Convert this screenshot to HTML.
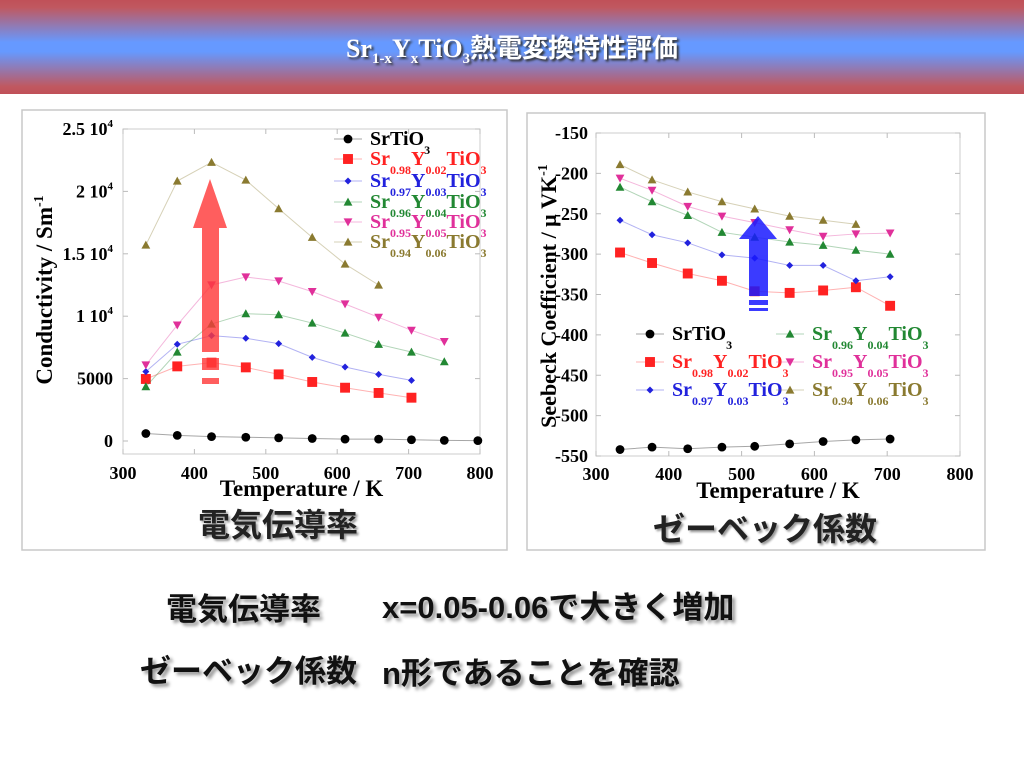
<!DOCTYPE html>
<html><head><meta charset="utf-8"><style>
html,body{margin:0;padding:0;width:1024px;height:768px;overflow:hidden;background:#fff}
#hdr{position:absolute;left:0;top:0;width:1024px;height:94px;background:linear-gradient(#c05058 0%,#c05860 8%,#6699ff 45%,#6699ff 55%,#c05860 92%,#c05058 100%)}
#ttl{position:absolute;left:0;top:28px;width:1024px;text-align:center;color:#fff;font:bold 26px "Liberation Serif","Noto Sans CJK JP",serif;text-shadow:2px 2px 2px #333}
#ttl sub{font-size:15px;vertical-align:-6px}
.bt{position:absolute;font:bold 31px "Liberation Sans","Noto Sans CJK JP",sans-serif;color:#111;text-shadow:3px 3px 3px #999;white-space:nowrap}
svg{position:absolute;left:0;top:0}
</style></head><body>
<div id="hdr"><div id="ttl">Sr<sub>1-x</sub>Y<sub>x</sub>TiO<sub>3</sub>熱電変換特性評価</div></div>
<svg id="chart" width="1024" height="768"></svg>
<div class="bt" style="left:166px;top:584px">電気伝導率</div>
<div class="bt" style="left:382px;top:582px">x=0.05-0.06で大きく増加</div>
<div class="bt" style="left:140px;top:646px">ゼーベック係数</div>
<div class="bt" style="left:382px;top:648px">n形であることを確認</div>
<script>
const seriesNames=[["Sr","","TiO","3"],["Sr","0.98","Y","0.02","TiO","3"],["Sr","0.97","Y","0.03","TiO","3"],["Sr","0.96","Y","0.04","TiO","3"],["Sr","0.95","Y","0.05","TiO","3"],["Sr","0.94","Y","0.06","TiO","3"]];
const colors=["#000","#f22","#22d","#228833","#e0309a","#8a7a30"];
const markers=["circle","square","diamond","tri","tridown","tri"];
const tempsL=[332,376,424,472,518,565,611,658,704,750,797];
const condBlack=[600,450,350,300,250,200,150,150,100,50,30];
const condRed=[4970,5980,6280,5900,5340,4730,4270,3850,3470];
const condBlue=[5560,7750,8440,8230,7800,6700,5930,5340,4860];
const condGreen=[4350,7130,9370,10200,10120,9450,8650,7750,7130,6360];
const condPink=[6090,9290,12500,13140,12820,11970,10980,9910,8870,7960];
const condOlive=[15700,20830,22330,20910,18620,16320,14180,12500];
const condTicks=["0","5000","1 10","1.5 10","2 10","2.5 10"];
const tempsR=[333,377,426,473,518,566,612,657,704];
const seebBlack=[-542,-539,-541,-539,-538,-535,-532,-530,-529];
const seebRed=[-298,-311,-324,-333,-346,-348,-345,-341,-364];
const seebBlue=[-258,-276,-286,-301,-305,-314,-314,-333,-328];
const seebGreen=[-217,-235,-252,-273,-279,-285,-289,-295,-300];
const seebPink=[-206,-221,-241,-253,-261,-270,-278,-275,-274];
const seebOlive=[-189,-208,-223,-235,-244,-253,-258,-263];
const seebTicks=[-550,-500,-450,-400,-350,-300,-250,-200,-150];
const xTicks=[300,400,500,600,700,800];

const NS="http://www.w3.org/2000/svg";
const svg=document.getElementById('chart');
function mk(tag,at,parent){const e=document.createElementNS(NS,tag);for(const k in at)e.setAttribute(k,at[k]);(parent||svg).appendChild(e);return e;}
const serif='"Liberation Serif",serif';
function marker(g,type,x,y,c,s){
 let e;
 if(type=="circle")e=mk('circle',{cx:x,cy:y,r:s*0.55,fill:c},g);
 else if(type=="square")e=mk('rect',{x:x-s*0.55,y:y-s*0.55,width:s*1.1,height:s*1.1,fill:c},g);
 else if(type=="diamond")e=mk('polygon',{points:`${x},${y-s*0.5} ${x+s*0.5},${y} ${x},${y+s*0.5} ${x-s*0.5},${y}`,fill:c},g);
 else if(type=="tri")e=mk('polygon',{points:`${x},${y-s*0.55} ${x+s*0.55},${y+s*0.45} ${x-s*0.55},${y+s*0.45}`,fill:c},g);
 else e=mk('polygon',{points:`${x},${y+s*0.55} ${x+s*0.55},${y-s*0.45} ${x-s*0.55},${y-s*0.45}`,fill:c},g);
 
 
}
function formula(g,x,y,parts,c,size){
 const t=mk('text',{x:x,y:y,fill:c,'font-family':serif,'font-weight':'bold','font-size':size},g);
 parts.forEach((p,i)=>{if(p==="")return;const sp=mk('tspan',{},t);sp.textContent=p;
  if(i%2==1){sp.setAttribute('font-size',size*0.6);sp.setAttribute('dy',size*0.45);}
  else if(i>0&&parts[i-1]!==""){sp.setAttribute('dy',-size*0.45);}});
 return t;
}
function chart(cfg){
 const g=mk('g',{});
 
 
 const p=mk('rect',{x:cfg.panel[0],y:cfg.panel[1],width:cfg.panel[2],height:cfg.panel[3],fill:'#fff',stroke:'#c8c8c8','stroke-width':1.5},g);
  
 const [L,T,R,B]=cfg.frame;
 const fx=v=>L+(v-300)/500*(R-L);
 const fy=v=>cfg.y0px+(v-cfg.ymin)/(cfg.ymax-cfg.ymin)*(cfg.y1px-cfg.y0px);
 const fr=mk('rect',{x:L,y:T,width:R-L,height:B-T,fill:'none',stroke:'#ccc','stroke-width':1},g);
  
 xTicks.forEach(v=>{const x=fx(v);mk('line',{x1:x,y1:B,x2:x,y2:B-5,stroke:'#bbb'},g);mk('line',{x1:x,y1:T,x2:x,y2:T+5,stroke:'#bbb'},g);
  const t=mk('text',{x:x,y:B+cfg.xlabOff,'text-anchor':'middle','font-family':serif,'font-weight':'bold','font-size':18},g);t.textContent=v;
  });
 cfg.yTickVals.forEach((v,i)=>{const y=fy(v);mk('line',{x1:L,y1:y,x2:L+5,y2:y,stroke:'#bbb'},g);mk('line',{x1:R,y1:y,x2:R-5,y2:y,stroke:'#bbb'},g);
  const t=mk('text',{x:L-cfg.ylabOff,y:y+6,'text-anchor':'end','font-family':serif,'font-weight':'bold','font-size':18},g);
  t.textContent=cfg.yTickText[i];
  if(cfg.sup&&cfg.sup[i]){const s=mk('tspan',{'font-size':11,dy:-8},t);s.textContent='4';}
  });
 const xt=mk('text',{x:(L+R)/2,y:cfg.xtitleY,'text-anchor':'middle','font-family':serif,'font-weight':'bold','font-size':23},g);xt.textContent='Temperature / K';
 
 const yt=mk('text',{x:0,y:0,transform:`translate(${cfg.ytitle[0]},${cfg.ytitle[1]}) rotate(-90)`,'text-anchor':'middle','font-family':serif,'font-weight':'bold','font-size':cfg.ytitle[2],'xml:space':'preserve'},g);
 yt.textContent=cfg.ytitleText;const ys=mk('tspan',{'font-size':14,dy:-9},yt);ys.textContent='-1';
 
 cfg.series.forEach((arr,si)=>{
  const pts=arr.map((v,i)=>[fx(cfg.temps[i]),fy(v)]);
  const pl=mk('polyline',{points:pts.map(p=>p.join(',')).join(' '),fill:'none',stroke:colors[si],'stroke-opacity':0.35,'stroke-width':1},g);
  
  pts.forEach(p=>marker(g,markers[si],p[0],p[1],colors[si],cfg.ms[si]));
 });
 const jp=mk('text',{x:cfg.jp[0],y:cfg.jp[1],'text-anchor':'middle','font-family':'"Noto Sans CJK JP",sans-serif','font-weight':'bold','font-size':cfg.jp[2],fill:'#222',style:'text-shadow:2px 2px 2px #999'},g);
 jp.textContent=cfg.jpText;
 cfg.legend.forEach((pos,si)=>{
  const lg=mk('g',{},g);
  mk('line',{x1:pos[0]-14,y1:pos[1]-6,x2:pos[0]+14,y2:pos[1]-6,stroke:colors[si],'stroke-opacity':0.35},lg);
  marker(lg,markers[si],pos[0],pos[1]-6,colors[si],cfg.ms[si]);
  formula(lg,pos[0]+22,pos[1],seriesNames[si],colors[si],cfg.legSize);
 });
 return {g,fx,fy};
}
const left=chart({name:'conductivity-chart',panel:[22,110,485,440],frame:[123,129,480,454],ymin:0,ymax:25000,y0px:441,y1px:129,
 yTickVals:[0,5000,10000,15000,20000,25000],yTickText:condTicks,sup:[0,0,1,1,1,1],xlabOff:25,ylabOff:10,xtitleY:496,
 ytitle:[52,290,23],ytitleText:'Conductivity / Sm',temps:tempsL,series:[condBlack,condRed,condBlue,condGreen,condPink,condOlive],
 ms:[8,9,7,8,8,8],jp:[278,536,32],jpText:'電気伝導率',legSize:20,
 legend:[[348,145],[348,165],[348,187],[348,208],[348,228],[348,248]]});
(function(){const a=mk('g',{opacity:0.82});
 mk('polygon',{points:'210,179 227,228 219,228 219,352 202,352 202,228 193,228',fill:'#ff3b3b'},a);
 mk('rect',{x:202,y:358,width:17,height:12,fill:'#ff3b3b'},a);mk('rect',{x:202,y:378,width:17,height:6,fill:'#ff3b3b'},a);})();
const right=chart({name:'seebeck-chart',panel:[527,113,458,437],frame:[596,133,960,456],ymin:-550,ymax:-150,y0px:456,y1px:133,
 yTickVals:seebTicks,yTickText:seebTicks.map(String),xlabOff:24,ylabOff:8,xtitleY:498,
 ytitle:[556,296,22],ytitleText:'Seebeck Coefficient  /  μ VK',temps:tempsR,series:[seebBlack,seebRed,seebBlue,seebGreen,seebPink,seebOlive],
 ms:[8,9,7,8,8,8],jp:[765,540,32],jpText:'ゼーベック係数',legSize:20,
 legend:[[650,340],[650,368],[650,396],[790,340],[790,368],[790,396]]});
(function(){const a=mk('g',{opacity:0.85});
 mk('polygon',{points:'758,216 777,239 768,239 768,296 749,296 749,239 739,239',fill:'#1a1aff'},a);
 mk('rect',{x:749,y:300,width:19,height:5,fill:'#1a1aff'},a);mk('rect',{x:749,y:308,width:19,height:3,fill:'#1a1aff'},a);})();
</script>
</body></html>
